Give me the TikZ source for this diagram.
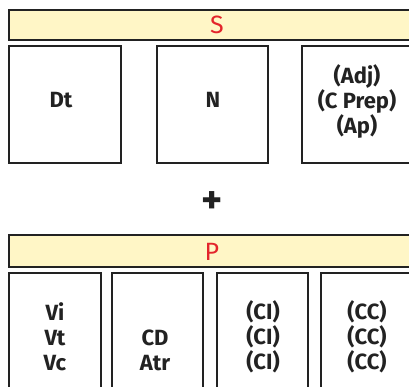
\documentclass[tikz,border=0pt]{standalone}
\usepackage{fontspec}
\setmainfont{Fira Sans}
\definecolor{barfill}{HTML}{FFF6C6}
\definecolor{lbl}{HTML}{E3242B}
\definecolor{ink}{HTML}{222222}
\begin{document}
\begin{tikzpicture}[x=1pt,y=-1pt,
  bar/.style={draw=ink,line width=1.3pt,fill=barfill},
  box/.style={draw=ink,line width=1.3pt,fill=white},
  barlabel/.style={text=lbl,font=\fontsize{25}{25}\selectfont},
  txt/.style={text=ink,font=\fontsize{22}{25}\selectfont\bfseries,align=center,inner sep=0pt}]
\useasboundingbox (0,0) rectangle (409,387);
% S bar
\path[bar] (9,10) rectangle (415,40);
\node[barlabel] (S) at (217,25) {S};
% top boxes
\path[box] (9,46) rectangle (121,163);
\path[box] (157,46) rectangle (268,163);
\path[box] (302,46) rectangle (415,163);
\node[txt] (dt) at (61,100) {Dt};
\node[txt] (n) at (213,100) {N};
\node[txt] (adj) at (357,101) {(Adj)\\(C Prep)\\(Ap)};
% plus
\node[text=ink,font=\fontsize{40}{40}\selectfont\bfseries] (plus) at (212,203) {+};
% P bar
\path[bar] (9,235) rectangle (415,267);
\node[barlabel] (P) at (212,252) {P};
% bottom boxes
\path[box] (9,273) rectangle (101,395);
\path[box] (112,273) rectangle (203,395);
\path[box] (217,273) rectangle (308,395);
\path[box] (321,273) rectangle (415,395);
\node[txt] (v) at (55,337) {Vi\\Vt\\Vc};
\node[txt] (cd) at (155,350) {CD\\Atr};
\node[txt] (ci) at (263,337) {(CI)\\(CI)\\(CI)};
\node[txt] (cc) at (367,337) {(CC)\\(CC)\\(CC)};
\end{tikzpicture}
\end{document}
